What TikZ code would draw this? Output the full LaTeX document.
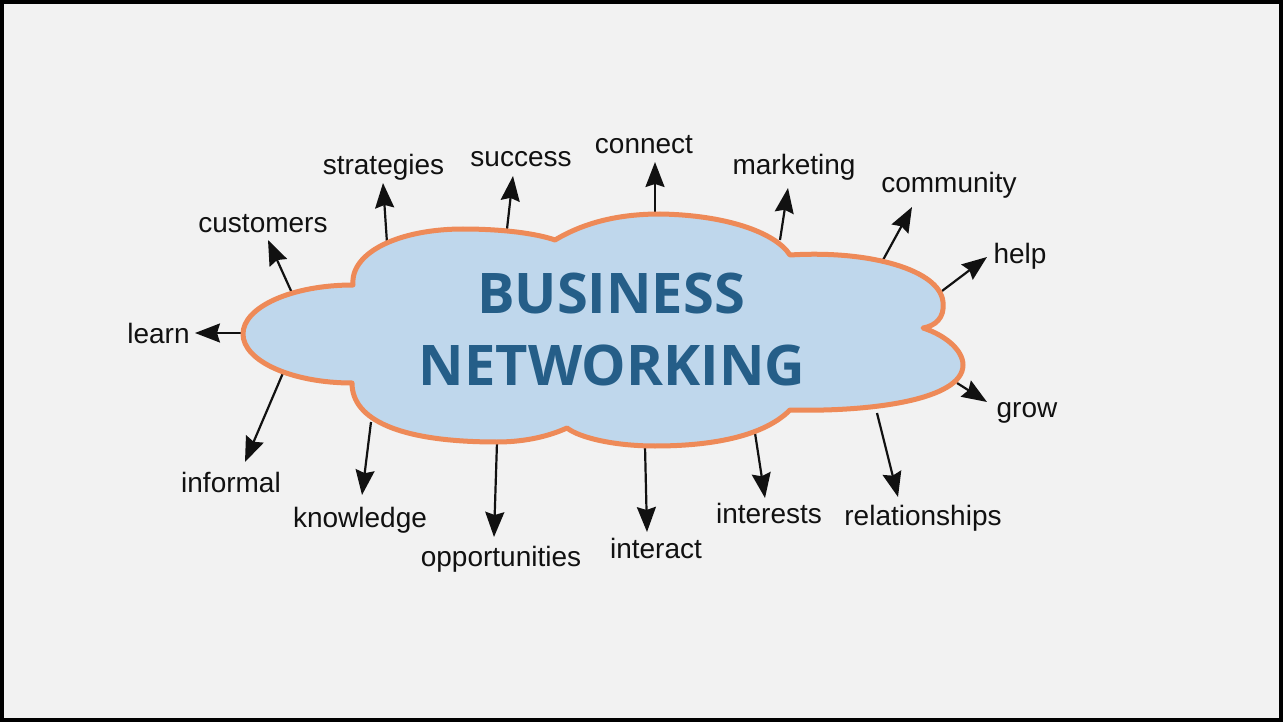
\documentclass[tikz,border=0pt]{standalone}
\usepackage{fontspec}
\setmainfont{Liberation Sans}
\newfontfamily\titlefont{Open Sans}
\usetikzlibrary{arrows.meta}
\definecolor{bg}{HTML}{F2F2F2}
\definecolor{cloudfill}{HTML}{BFD7EC}
\definecolor{cloudline}{HTML}{EE8A58}
\definecolor{titleblue}{HTML}{255E88}
\definecolor{ink}{HTML}{111111}
\begin{document}
\begin{tikzpicture}[x=1pt,y=-1pt,
  lbl/.style={font=\fontsize{28}{34}\selectfont, text=ink, anchor=base, inner sep=0pt},
  ttl/.style={font=\titlefont\bfseries\fontsize{56}{67}\selectfont, text=titleblue, anchor=base, inner sep=0pt},
  arr/.style={line width=2.2pt, draw=ink, -{Stealth[length=25pt,width=19pt,inset=3pt]}},
  cloudshape/.style={fill=cloudfill, draw=cloudline, line width=5pt, line join=round}]
\useasboundingbox (0,0) rectangle (1283,722);
\fill[bg] (0,0) rectangle (1283,722);
\draw[line width=4pt] (2,2) rectangle (1281,720);

% labels
\node[lbl] (learn) at (158.5,343) {learn};
\node[lbl] (informal) at (231,492) {informal};
\node[lbl] (knowledge) at (360,527) {knowledge};
\node[lbl] (opportunities) at (501,566) {opportunities};
\node[lbl] (interact) at (656,558) {interact};
\node[lbl] (interests) at (769,523) {interests};
\node[lbl] (relationships) at (923,525) {relationships};
\node[lbl] (grow) at (1027,417) {grow};
\node[lbl] (help) at (1020,264) {help};
\node[lbl] (community) at (949,193) {community};
\node[lbl] (marketing) at (794,175) {marketing};
\node[lbl] (connect) at (644,154) {connect};
\node[lbl] (success) at (521,167) {success};
\node[lbl] (strategies) at (383.5,175) {strategies};
\node[lbl] (customers) at (263,233) {customers};

% arrow end points
\coordinate (s-cust) at (292,293);  \coordinate (t-cust) at (268,240);
\coordinate (s-strat) at (387,243); \coordinate (t-strat) at (383,183);
\coordinate (s-succ) at (507,229);  \coordinate (t-succ) at (513,176);
\coordinate (s-conn) at (655,213);  \coordinate (t-conn) at (655,162);
\coordinate (s-mark) at (780,240);  \coordinate (t-mark) at (788,188);
\coordinate (s-comm) at (883,260);  \coordinate (t-comm) at (912,207);
\coordinate (s-help) at (942,291);  \coordinate (t-help) at (987,257);
\coordinate (s-grow) at (957,383);  \coordinate (t-grow) at (987,402);
\coordinate (s-rel) at (877,413);   \coordinate (t-rel) at (898,497);
\coordinate (s-int) at (755,433);   \coordinate (t-int) at (765,498);
\coordinate (s-act) at (645,446);   \coordinate (t-act) at (647,532);
\coordinate (s-opp) at (497,442);   \coordinate (t-opp) at (494,537);
\coordinate (s-know) at (371,422);  \coordinate (t-know) at (362,495);
\coordinate (s-inf) at (283,373);   \coordinate (t-inf) at (245,462);
\coordinate (s-learn) at (242,333); \coordinate (t-learn) at (195,333);

\foreach \n in {cust,strat,succ,conn,mark,comm,help,grow,rel,int,act,opp,know,inf,learn}
  \draw[arr] (s-\n) -- (t-\n);

% cloud
\draw[cloudshape] (352,383)
  .. controls (292,383) and (243,361) .. (243,334)
  .. controls (243,307) and (292,285) .. (353,285)
  .. controls (350,252) and (400,229) .. (463,229)
  .. controls (500,229) and (535,233) .. (555,240)
  .. controls (585,222) and (620,214) .. (660,214)
  .. controls (725,215) and (775,232) .. (790,255)
  .. controls (870,250) and (940,270) .. (943,302)
  .. controls (945,318) and (935,326) .. (923,328)
  .. controls (945,335) and (963,350) .. (963,365)
  .. controls (963,400) and (870,412) .. (790,410)
  .. controls (760,440) and (700,446) .. (655,446)
  .. controls (615,446) and (580,438) .. (567,428)
  .. controls (545,438) and (520,442) .. (497,442)
  .. controls (400,442) and (352,420) .. (352,383) -- cycle;

\node[ttl] (t1) at (611,313) {BUSINESS};
\node[ttl] (t2) at (612,385) {NETWORKING};
\end{tikzpicture}
\end{document}
